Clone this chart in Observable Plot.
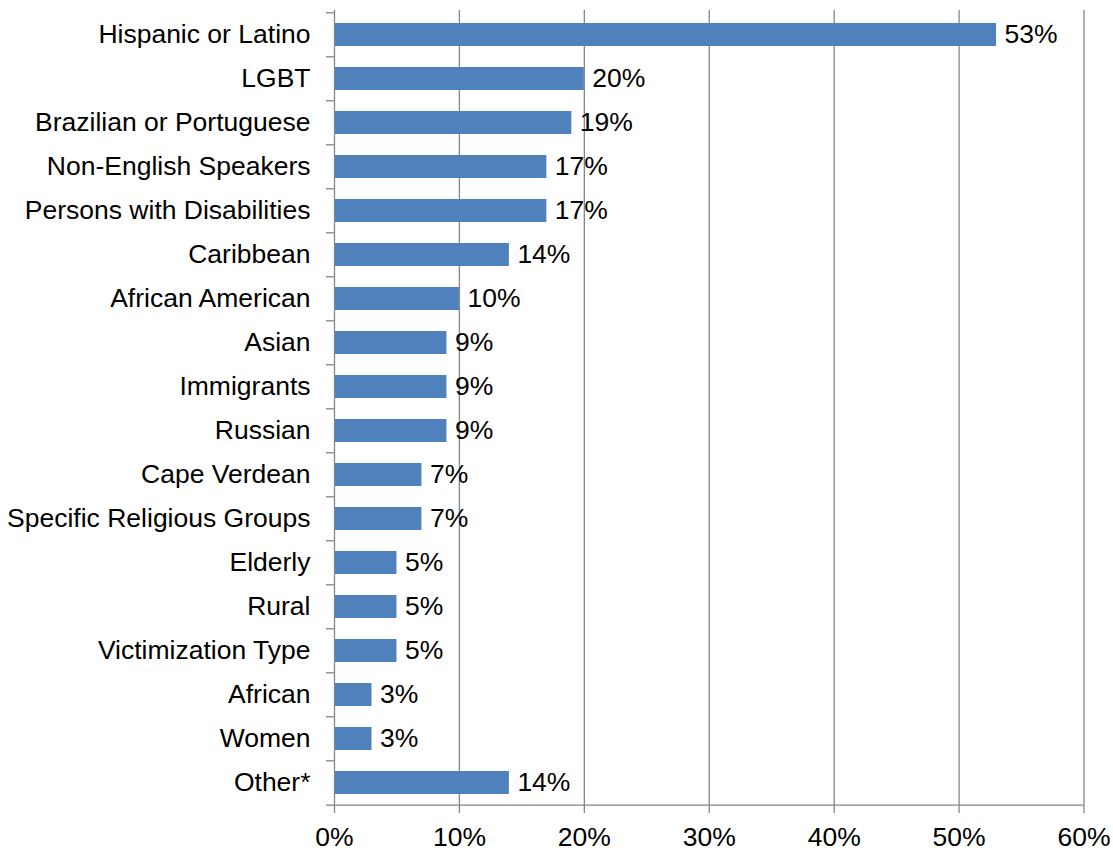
<!DOCTYPE html>
<html><head><meta charset="utf-8">
<script src="https://cdn.jsdelivr.net/npm/d3@7"></script>
<script src="https://cdn.jsdelivr.net/npm/@observablehq/plot@0.6"></script>
<style>html,body{margin:0;padding:0;background:#fff;}</style>
</head><body><div id="chart"></div>
<script>
const categories = [
  "Hispanic or Latino",
  "LGBT",
  "Brazilian or Portuguese",
  "Non-English Speakers",
  "Persons with Disabilities",
  "Caribbean",
  "African American",
  "Asian",
  "Immigrants",
  "Russian",
  "Cape Verdean",
  "Specific Religious Groups",
  "Elderly",
  "Rural",
  "Victimization Type",
  "African",
  "Women",
  "Other*"
];
const values = [53, 20, 19, 17, 17, 14, 10, 9, 9, 9, 7, 7, 5, 5, 5, 3, 3, 14];
const xTicks = [0, 10, 20, 30, 40, 50, 60];

const data = categories.map((c, i) => ({category: c, value: values[i]}));
const W = 1113, H = 851, mt = 10, mb = 43, ml = 334, mr = 29.5;
const step = (H - mt - mb) / categories.length;
const gray = "#868686";
const barColor = "#4F81BD";

const chart = Plot.plot({
  width: W, height: H,
  marginTop: mt, marginBottom: mb, marginLeft: ml, marginRight: mr,
  style: {fontFamily: "'Liberation Sans', Arial, sans-serif", fontSize: "26.5px", color: "#000", background: "#fff"},
  x: {domain: [0, 60], label: null},
  y: {domain: categories, paddingInner: 0.475, paddingOuter: 0.2375, label: null},
  marks: [
    Plot.gridX(xTicks.slice(1), {stroke: gray, strokeOpacity: 1, strokeWidth: 1.3}),
    Plot.barX(data, {x: "value", y: "category", fill: barColor}),
    Plot.ruleX([0], {stroke: gray, strokeWidth: 1.3}),
    Plot.ruleY([categories.at(-1)], {dy: step / 2, stroke: gray, strokeWidth: 1.3}),
    Plot.axisX(xTicks, {tickSize: 5, tickPadding: 14, tickFormat: d => d + "%", stroke: gray, fill: "#000", strokeWidth: 1.3, label: null}),
    Plot.axisY({tickSize: 0, tickPadding: 24, fill: "#000", label: null}),
    Plot.axisY({tickSize: 8, tickFormat: () => "", dy: -step / 2, stroke: gray, strokeWidth: 1.3, label: null}),
    Plot.axisY([categories.at(-1)], {tickSize: 8, tickFormat: () => "", dy: step / 2, stroke: gray, strokeWidth: 1.3, label: null}),
    Plot.text(data, {x: "value", y: "category", text: d => d.value + "%", textAnchor: "start", dx: 8, fill: "#000"})
  ]
});
document.getElementById("chart").appendChild(chart);
</script>
</body></html>
